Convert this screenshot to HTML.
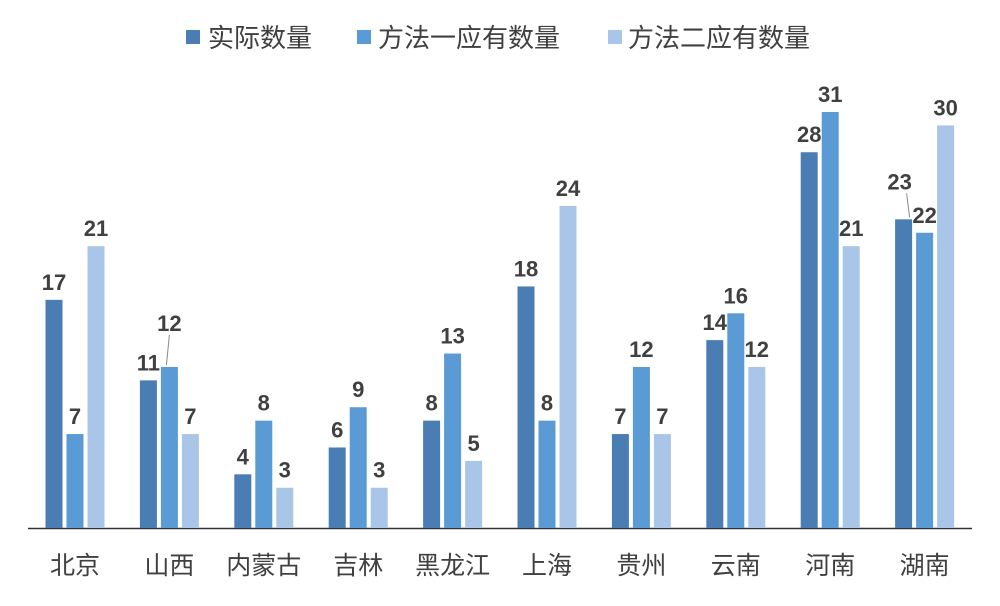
<!DOCTYPE html>
<html><head><meta charset="utf-8">
<style>
body{margin:0;background:#fff;}
svg{display:block;font-family:"Liberation Sans","Noto Sans CJK SC",sans-serif;}
</style></head>
<body>
<svg id="chart" width="1000" height="606">
  <g>
    <rect x="186" y="30" width="14" height="14" fill="#4A7DB3"/>
    <text x="208" y="47" font-size="26" fill="#404040">实际数量</text>
    <rect x="357" y="30" width="14" height="14" fill="#5B9BD5"/>
    <text x="378" y="47" font-size="26" fill="#404040">方法一应有数量</text>
    <rect x="608" y="30" width="14" height="14" fill="#A9C5E8"/>
    <text x="628" y="47" font-size="26" fill="#404040">方法二应有数量</text>
  </g>
  <line x1="28" y1="528.5" x2="972" y2="528.5" stroke="#333" stroke-width="1.5"/>
  <g id="bars"></g>
</svg>
<script>
const categories=["北京","山西","内蒙古","吉林","黑龙江","上海","贵州","云南","河南","湖南"];
const actual=[17,11,4,6,8,18,7,14,28,23];
const method1=[7,12,8,9,13,8,12,16,31,22];
const method2=[21,7,3,3,5,24,7,12,21,30];
const series=[actual,method1,method2];
const seriesNames=["actual","method1","method2"];
const colors=["#4A7DB3","#5B9BD5","#A9C5E8"];
const base=528, unit=13.42, x0=75, step=94.4, bw=17, gap=4;
const y=v=>base-v*unit;
const ns="http://www.w3.org/2000/svg";
const g=document.getElementById('bars');
categories.forEach((c,i)=>{
  const cx=x0+i*step;
  series.forEach((s,k)=>{
    const bx=cx+(k-1)*(bw+gap)-bw/2;
    const r=document.createElementNS(ns,'rect');
    r.setAttribute('x',bx);r.setAttribute('y',y(s[i]));
    r.setAttribute('width',bw);r.setAttribute('height',s[i]*unit);
    r.setAttribute('fill',colors[k]);
    
    
    g.appendChild(r);
    let lift=10;
    if(i===1&&k===1)lift=36;
    if(i===9&&k===0)lift=30;
    const t=document.createElementNS(ns,'text');
    t.setAttribute('x',bx+bw/2+((i===9&&k===0)?-4:0));
    t.setAttribute('y',y(s[i])-lift);
    t.setAttribute('text-anchor','middle');
    t.setAttribute('font-size','22');t.setAttribute('font-weight','bold');
    t.setAttribute('fill','#404040');
    t.textContent=s[i];
    
    
    g.appendChild(t);
    if(lift>10){
      const l=document.createElementNS(ns,'line');
      l.setAttribute('x1',bx+bw/2+(i===9?3:0));l.setAttribute('y1',y(s[i])-lift+4);
      l.setAttribute('x2',bx+bw/2+(i===9?6:-3));l.setAttribute('y2',y(s[i])-2);
      l.setAttribute('stroke','#888');l.setAttribute('stroke-width','1');
      
      
      g.appendChild(l);
    }
  });
  const ct=document.createElementNS(ns,'text');
  ct.setAttribute('x',cx);ct.setAttribute('y',574);
  ct.setAttribute('text-anchor','middle');ct.setAttribute('font-size','25');
  ct.setAttribute('fill','#404040');
  ct.textContent=c;
  
  
  g.appendChild(ct);
});
</script>
</body></html>
